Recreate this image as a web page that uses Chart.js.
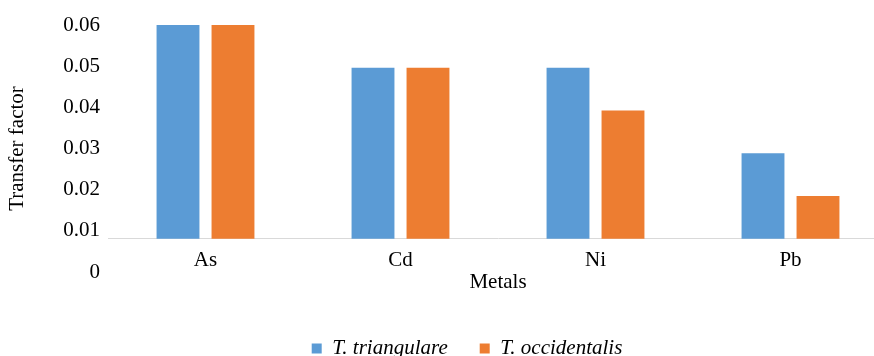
<!DOCTYPE html>
<html>
<head>
<meta charset="utf-8">
<script src="https://cdn.jsdelivr.net/npm/chart.js@4/dist/chart.umd.min.js"></script>
<style>
html,body{margin:0;padding:0;overflow:hidden;background:#fff;}
#wrap{width:934px;height:356px;position:relative;}
</style>
</head>
<body>
<div id="wrap"><canvas id="c"></canvas></div>
<script>
const categories = ['As', 'Cd', 'Ni', 'Pb'];
const triangulare = [0.06, 0.05, 0.05, 0.03];
const occidentalis = [0.06, 0.05, 0.04, 0.02];
const yTickValues = [0, 0.01, 0.02, 0.03, 0.04, 0.05, 0.06];
const yTickLabels = ['0', '0.01', '0.02', '0.03', '0.04', '0.05', '0.06'];
const seriesNames = ['T. triangulare', 'T. occidentalis'];
const barBase = 0.01;

const FONT = 'Liberation Serif, Times New Roman, serif';

new Chart(document.getElementById('c'), {
  type: 'bar',
  data: {
    labels: categories,
    datasets: [
      { label: seriesNames[0], data: triangulare, backgroundColor: '#5B9BD5', yAxisID: 'yB', base: barBase,
        barPercentage: 0.78, categoryPercentage: 0.564 },
      { label: seriesNames[1], data: occidentalis, backgroundColor: '#ED7D31', yAxisID: 'yB', base: barBase,
        barPercentage: 0.78, categoryPercentage: 0.564 }
    ]
  },
  options: {
    responsive: true,
    maintainAspectRatio: false,
    animation: false,
    devicePixelRatio: 1,
    layout: { padding: { top: 25, left: 0, right: 0, bottom: -13 } },
    plugins: {
      legend: {
        position: 'bottom',
        labels: {
          boxWidth: 10, boxHeight: 10, padding: 32, color: '#000',
          font: { family: FONT, size: 21, style: 'italic' }
        }
      },
      tooltip: { enabled: false }
    },
    scales: {
      x: {
        type: 'category',
        position: { yB: barBase },
        grid: { display: false, drawTicks: false },
        border: { display: true, color: '#d9d9d9', width: 1 },
        ticks: { color: '#000', padding: 9, font: { family: FONT, size: 21 } },
        title: { display: true, text: 'Metals', color: '#000', font: { family: FONT, size: 21 }, padding: { top: 0, bottom: 4 } },
        afterFit: s => { s.height = 60; }
      },
      xSpace: {
        type: 'linear',
        position: 'bottom',
        grid: { display: false, drawTicks: false },
        border: { display: false },
        ticks: { display: false },
        afterFit: s => { s.height = 34; }
      },
      y: {
        position: 'left',
        min: 0, max: 0.06,
        afterBuildTicks: s => { s.ticks = yTickValues.map(v => ({ value: v })); },
        grid: { display: false, drawTicks: false },
        border: { display: false },
        ticks: {
          color: '#000', padding: 8, font: { family: FONT, size: 21 },
          callback: (v, i) => yTickLabels[yTickValues.indexOf(v)]
        },
        title: { display: true, text: 'Transfer factor', color: '#000', font: { family: FONT, size: 21 }, padding: { top: 5, bottom: 0 } },
        afterFit: s => { s.width = 108; }
      },
      yB: {
        position: 'right',
        min: 0.00225, max: 0.06,
        bounds: 'data',
        grid: { display: false, drawTicks: false },
        border: { display: false },
        ticks: { display: false },
        afterFit: s => { s.width = 46; }
      }
    }
  }
});
</script>
</body>
</html>
